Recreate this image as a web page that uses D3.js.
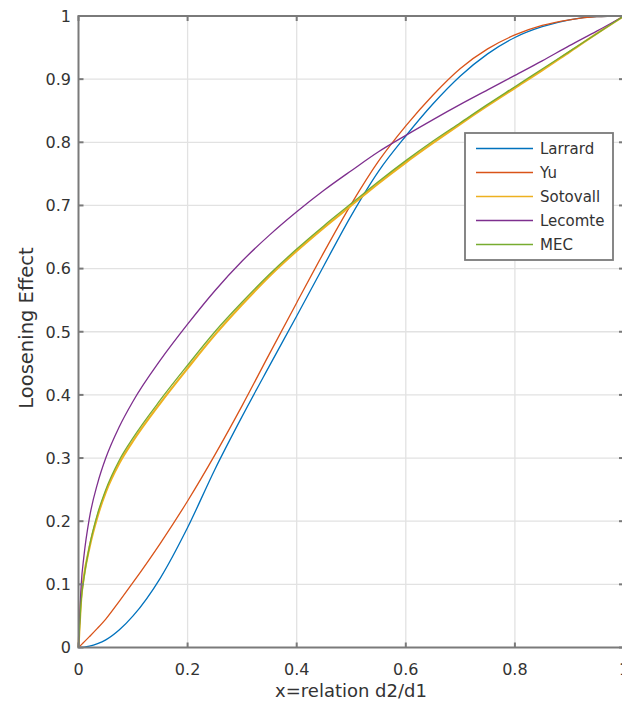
<!DOCTYPE html>
<html>
<head>
<meta charset="utf-8">
<script src="https://cdn.jsdelivr.net/npm/d3@7"></script>
<style>
    body { margin: 0; background: #fff; }
    #chart-area { width: 622px; height: 708px; }
    .axis-label, .tick-label, .legend-label { font-family: "DejaVu Sans", sans-serif; fill: #333; }
</style>
</head>
<body>
<div id="chart-area"></div>
<script>
// x = relation d2/d1 (shared by all series)
const xValues = [0, 0.005, 0.01, 0.02, 0.035, 0.05, 0.075, 0.1, 0.15, 0.2, 0.25, 0.3, 0.35,
    0.4, 0.45, 0.5, 0.55, 0.6, 0.65, 0.7, 0.75, 0.8, 0.85, 0.9, 0.95, 1];

// loosening effect
const larrard = [0, 0.0001, 0.0005, 0.002, 0.006, 0.012, 0.028, 0.05, 0.11, 0.19, 0.282, 0.366, 0.446,
    0.525, 0.605, 0.684, 0.754, 0.81, 0.861, 0.905, 0.94, 0.966, 0.983, 0.994, 0.999, 1];
const yu = [0, 0.0042, 0.0085, 0.0172, 0.0306, 0.045, 0.0735, 0.103, 0.165, 0.232, 0.305, 0.383, 0.465,
    0.546, 0.626, 0.702, 0.77, 0.826, 0.875, 0.917, 0.948, 0.97, 0.985, 0.994, 0.999, 1];
const sotovall = [0, 0.078, 0.113, 0.158, 0.208, 0.246, 0.292, 0.327, 0.387, 0.442, 0.495, 0.543, 0.588,
    0.628, 0.665, 0.7, 0.735, 0.768, 0.799, 0.829, 0.858, 0.886, 0.914, 0.943, 0.972, 1];
const lecomte = [0, 0.1, 0.145, 0.205, 0.26, 0.3, 0.35, 0.39, 0.455, 0.512, 0.565, 0.612, 0.653,
    0.69, 0.724, 0.755, 0.785, 0.811, 0.836, 0.86, 0.883, 0.906, 0.929, 0.953, 0.976, 1];
const mec = [0, 0.075, 0.11, 0.16, 0.212, 0.25, 0.297, 0.332, 0.392, 0.447, 0.5, 0.547, 0.591,
    0.631, 0.668, 0.703, 0.738, 0.771, 0.802, 0.831, 0.86, 0.888, 0.916, 0.944, 0.972, 1];

const seriesNames = ["Larrard", "Yu", "Sotovall", "Lecomte", "MEC"];
const seriesColors = ["#0072BD", "#D95319", "#EDB120", "#7E2F8E", "#77AC30"];

const xTicks = [0, 0.2, 0.4, 0.6, 0.8, 1];
const yTicks = [0, 0.1, 0.2, 0.3, 0.4, 0.5, 0.6, 0.7, 0.8, 0.9, 1];

class LooseningChart {
    constructor(parentElement, series) {
        this.parentElement = parentElement;
        this.series = series;
        this.initVis();
    }

    initVis() {
        let vis = this;

        vis.svg = d3.select("#" + vis.parentElement).append("svg")
            .attr("width", 622)
            .attr("height", 708);

        // plot box runs a little past the right edge of the picture
        vis.x = d3.scaleLinear().domain([0, 1]).range([78.5, 624]);
        vis.y = d3.scaleLinear().domain([0, 1]).range([647.5, 16]);

        // grid
        vis.svg.append("g").selectAll("line.vgrid")
            .data(xTicks.slice(1, -1))
            .enter().append("line")
            .attr("x1", d => vis.x(d)).attr("x2", d => vis.x(d))
            .attr("y1", vis.y(0)).attr("y2", vis.y(1))
            .attr("stroke", "#e2e2e2").attr("stroke-width", 1.3);

        vis.svg.append("g").selectAll("line.hgrid")
            .data(yTicks.slice(1, -1))
            .enter().append("line")
            .attr("x1", vis.x(0)).attr("x2", vis.x(1))
            .attr("y1", d => vis.y(d)).attr("y2", d => vis.y(d))
            .attr("stroke", "#e2e2e2").attr("stroke-width", 1.3);

        vis.updateVis();
    }

    updateVis() {
        let vis = this;

        let line = d3.line()
            .curve(d3.curveMonotoneX)
            .x(d => vis.x(d.x))
            .y(d => vis.y(d.y));

        vis.svg.append("g").selectAll("path.curve")
            .data(vis.series)
            .enter().append("path")
            .attr("class", "curve")
            .attr("fill", "none")
            .attr("stroke", d => d.color)
            .attr("stroke-width", d => d.name === "Sotovall" ? 2.2 : 1.3)
            .attr("d", d => line(xValues.map((xv, i) => ({ x: xv, y: d.values[i] }))));

        // axes box with inward ticks on all sides
        let frame = vis.svg.append("g");
        frame.append("rect")
            .attr("x", vis.x(0)).attr("y", vis.y(1))
            .attr("width", vis.x(1) - vis.x(0))
            .attr("height", vis.y(0) - vis.y(1))
            .attr("fill", "none")
            .attr("stroke", "#7a7a7a")
            .attr("stroke-width", 2);

        xTicks.forEach(t => {
            frame.append("line")
                .attr("x1", vis.x(t)).attr("x2", vis.x(t))
                .attr("y1", vis.y(0)).attr("y2", vis.y(0) - 5)
                .attr("stroke", "#7a7a7a").attr("stroke-width", 2);
            frame.append("line")
                .attr("x1", vis.x(t)).attr("x2", vis.x(t))
                .attr("y1", vis.y(1)).attr("y2", vis.y(1) + 5)
                .attr("stroke", "#7a7a7a").attr("stroke-width", 2);
        });
        yTicks.forEach(t => {
            frame.append("line")
                .attr("x1", vis.x(0)).attr("x2", vis.x(0) + 5)
                .attr("y1", vis.y(t)).attr("y2", vis.y(t))
                .attr("stroke", "#7a7a7a").attr("stroke-width", 2);
            frame.append("line")
                .attr("x1", vis.x(1)).attr("x2", vis.x(1) - 5)
                .attr("y1", vis.y(t)).attr("y2", vis.y(t))
                .attr("stroke", "#7a7a7a").attr("stroke-width", 2);
        });

        // tick labels (the last x label is cut by the right edge, as in the original)
        vis.svg.append("g").selectAll("text")
            .data(xTicks)
            .enter().append("text")
            .attr("class", "tick-label")
            .attr("x", d => vis.x(d))
            .attr("y", 675)
            .attr("text-anchor", "middle")
            .style("font-size", "16px")
            .text(d => d3.format("~g")(d));

        vis.svg.append("g").selectAll("text")
            .data(yTicks)
            .enter().append("text")
            .attr("class", "tick-label")
            .attr("x", 71)
            .attr("y", d => vis.y(d))
            .attr("dy", "0.36em")
            .attr("text-anchor", "end")
            .style("font-size", "16px")
            .text(d => d3.format("~g")(d));

        // axis titles
        vis.svg.append("text")
            .attr("class", "axis-label")
            .attr("x", 351)
            .attr("y", 697)
            .attr("text-anchor", "middle")
            .style("font-size", "18px")
            .text("x=relation d2/d1");

        vis.svg.append("text")
            .attr("class", "axis-label")
            .attr("transform", "translate(33,328) rotate(-90)")
            .attr("text-anchor", "middle")
            .style("font-size", "19.5px")
            .text("Loosening Effect");

        // legend
        let legend = vis.svg.append("g")
            .attr("class", "legend")
            .attr("transform", "translate(465,133)");

        legend.append("rect")
            .attr("width", 148)
            .attr("height", 127)
            .attr("fill", "#fff")
            .attr("stroke", "#7a7a7a")
            .attr("stroke-width", 1.8);

        vis.series.forEach((s, i) => {
            legend.append("line")
                .attr("x1", 11).attr("x2", 68)
                .attr("y1", 15.5 + i * 24).attr("y2", 15.5 + i * 24)
                .attr("stroke", s.color)
                .attr("stroke-width", 1.5);
            legend.append("text")
                .attr("class", "legend-label")
                .attr("x", 75)
                .attr("y", 15.5 + i * 24)
                .attr("dy", "0.36em")
                .style("font-size", "15px")
                .text(s.name);
        });
    }
}

const allValues = [larrard, yu, sotovall, lecomte, mec];
const series = seriesNames.map((name, i) => ({ name: name, color: seriesColors[i], values: allValues[i] }));

new LooseningChart("chart-area", series);
</script>
</body>
</html>
